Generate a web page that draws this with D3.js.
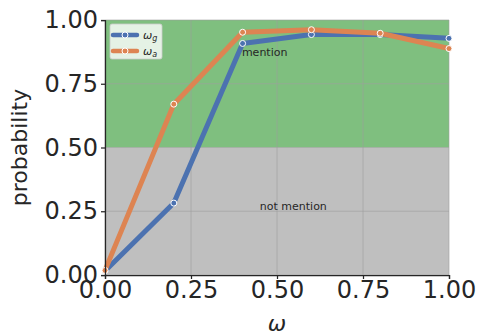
<!DOCTYPE html>
<html>
<head>
<meta charset="utf-8">
<script src="https://cdn.jsdelivr.net/npm/d3@7"></script>
<style>
  body { margin: 0; background: #fff; }
  text { font-family: "DejaVu Sans", sans-serif; fill: #262626; }
</style>
</head>
<body>
<div id="chart"></div>
<script>
var width = 480,
    height = 336;

var omega = [0.0, 0.2, 0.4, 0.6, 0.8, 1.0];
var omegaG = [0.016, 0.282, 0.908, 0.943, 0.943, 0.928];
var omegaA = [0.018, 0.670, 0.952, 0.962, 0.948, 0.888];
var ticks = [0.00, 0.25, 0.50, 0.75, 1.00];

var margin = {left: 105, right: 31, top: 20, bottom: 61};

var svg = d3.select("#chart").append("svg")
    .attr("width", width)
    .attr("height", height);

var x = d3.scaleLinear().domain([0, 1]).range([margin.left, width - margin.right]);
var y = d3.scaleLinear().domain([0, 1]).range([height - margin.bottom, margin.top]);

// background regions
svg.append("rect")
    .attr("x", x(0)).attr("y", y(0.5))
    .attr("width", x(1) - x(0)).attr("height", y(0) - y(0.5))
    .attr("fill", "#bfbfbf");
svg.append("rect")
    .attr("x", x(0)).attr("y", y(1))
    .attr("width", x(1) - x(0)).attr("height", y(0.5) - y(1))
    .attr("fill", "#7fbf7f");

// grid
svg.append("g").selectAll("line")
    .data(ticks).enter().append("line")
    .attr("x1", function(d) { return x(d); })
    .attr("x2", function(d) { return x(d); })
    .attr("y1", y(0)).attr("y2", y(1))
    .attr("stroke", "#9f9f9f").attr("stroke-opacity", 0.6).attr("stroke-width", 1);
svg.append("g").selectAll("line")
    .data(ticks).enter().append("line")
    .attr("y1", function(d) { return y(d); })
    .attr("y2", function(d) { return y(d); })
    .attr("x1", x(0)).attr("x2", x(1))
    .attr("stroke", "#9f9f9f").attr("stroke-opacity", 0.6).attr("stroke-width", 1);

svg.append("text").attr("x", x(0.398)).attr("y", y(0.86))
    .attr("font-size", 11).text("mention");
svg.append("text").attr("x", x(0.45)).attr("y", y(0.255))
    .attr("font-size", 11).text("not mention");

var series = [
  {name: "g", values: omegaG, color: "#4c72b0"},
  {name: "a", values: omegaA, color: "#dd8452"}
];

var line = d3.line()
    .x(function(d) { return x(d[0]); })
    .y(function(d) { return y(d[1]); });

series.forEach(function(s) {
  var pts = omega.map(function(w, i) { return [w, s.values[i]]; });
  svg.append("path")
      .datum(pts)
      .attr("fill", "none")
      .attr("stroke", s.color)
      .attr("stroke-width", 5)
      .attr("stroke-linejoin", "round")
      .attr("d", line);
  svg.append("g").selectAll("circle")
      .data(pts).enter().append("circle")
      .attr("cx", function(d) { return x(d[0]); })
      .attr("cy", function(d) { return y(d[1]); })
      .attr("r", 3)
      .attr("fill", s.color)
      .attr("stroke", "#fff")
      .attr("stroke-width", 1);
});

// axes
var xAxis = svg.append("g")
    .attr("transform", "translate(0," + y(0) + ")")
    .call(d3.axisBottom(x).tickValues(ticks).tickFormat(d3.format(".2f")).tickSize(4).tickPadding(2));
var yAxis = svg.append("g")
    .attr("transform", "translate(" + x(0) + ",0)")
    .call(d3.axisLeft(y).tickValues(ticks).tickFormat(d3.format(".2f")).tickSize(4).tickPadding(3));
[xAxis, yAxis].forEach(function(a) {
  a.select(".domain").attr("stroke", "#262626").attr("stroke-width", 1.25);
  a.selectAll(".tick line").attr("stroke", "#262626").attr("stroke-width", 1.25);
  a.selectAll(".tick text")
      .attr("font-family", "DejaVu Sans, sans-serif")
      .attr("font-size", 24)
      .attr("fill", "#262626");
});

svg.append("text")
    .attr("x", x(0.5)).attr("y", 331)
    .attr("text-anchor", "middle")
    .attr("font-size", 22).attr("font-style", "italic")
    .text("ω");
svg.append("text")
    .attr("transform", "translate(27," + y(0.5) + ") rotate(-90)")
    .attr("text-anchor", "middle")
    .attr("font-size", 22)
    .text("probability");

// legend
var lg = svg.append("g").attr("transform", "translate(110,24)");
lg.append("rect")
    .attr("width", 52).attr("height", 35).attr("rx", 2)
    .attr("fill", "#fff").attr("fill-opacity", 0.8)
    .attr("stroke", "#ccc").attr("stroke-width", 0.8);
series.forEach(function(s, i) {
  var yy = 11 + i * 16;
  lg.append("line")
      .attr("x1", 3).attr("x2", 27).attr("y1", yy).attr("y2", yy)
      .attr("stroke", s.color).attr("stroke-width", 4.5).attr("stroke-linecap", "round");
  lg.append("circle")
      .attr("cx", 15).attr("cy", yy).attr("r", 3)
      .attr("fill", s.color).attr("stroke", "#fff").attr("stroke-width", 1);
  var t = lg.append("text").attr("x", 33).attr("y", yy + 4).attr("font-size", 11).attr("font-style", "italic");
  t.append("tspan").text("ω");
  t.append("tspan").attr("font-size", 8).attr("dy", 2).text(s.name);
});
</script>
</body>
</html>
